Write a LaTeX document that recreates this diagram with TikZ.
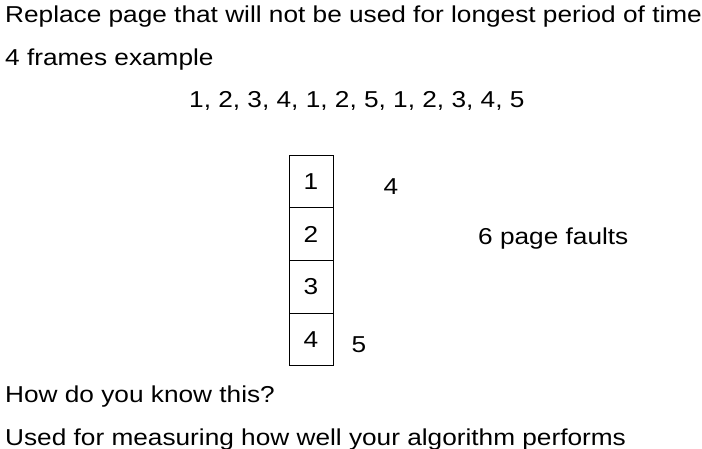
\documentclass[tikz,border=0pt]{standalone}
\usepackage{fontspec}
\setmainfont{Liberation Sans}[FakeStretch=1.14]
\usetikzlibrary{positioning}
\tikzset{
  txt/.style={inner sep=0pt, anchor=base west, font=\fontsize{23}{27}\selectfont},
  framebox/.style={rectangle, draw, line width=0.8pt, minimum width=44pt, minimum height=52.7pt, inner sep=0pt, outer sep=0pt, font=\fontsize{23}{27}\selectfont},
  numlbl/.style={inner sep=0pt, font=\fontsize{23}{27}\selectfont},
}
\begin{document}
\begin{tikzpicture}[x=1pt, y=-1pt]
  \useasboundingbox (0,0) rectangle (702,449);

  % Heading lines
  \node[txt] (title) at (5,23) {Replace page that will not be used for longest period of time};
  \node[txt] (sub) at (5,66) {4 frames example};
  \node[txt] (refs) at (189,108) {1, 2, 3, 4, 1, 2, 5, 1, 2, 3, 4, 5};

  % Frames
  \node[framebox] (f1) at (311,181.3) {1};
  \node[framebox, below=0pt of f1] (f2) {2};
  \node[framebox, below=0pt of f2] (f3) {3};
  \node[framebox, below=0pt of f3] (f4) {4};

  % Replacements
  \node[numlbl] (r4) at (391,187) {4};
  \node[numlbl] (r5) at (359,345) {5};
  \node[numlbl, anchor=west] (faults) at (478,239) {6 page faults};

  % Questions
  \node[txt] (ask) at (5,402) {How do you know this?};
  \node[txt] (use) at (5,445) {Used for measuring how well your algorithm performs};
\end{tikzpicture}
\end{document}
